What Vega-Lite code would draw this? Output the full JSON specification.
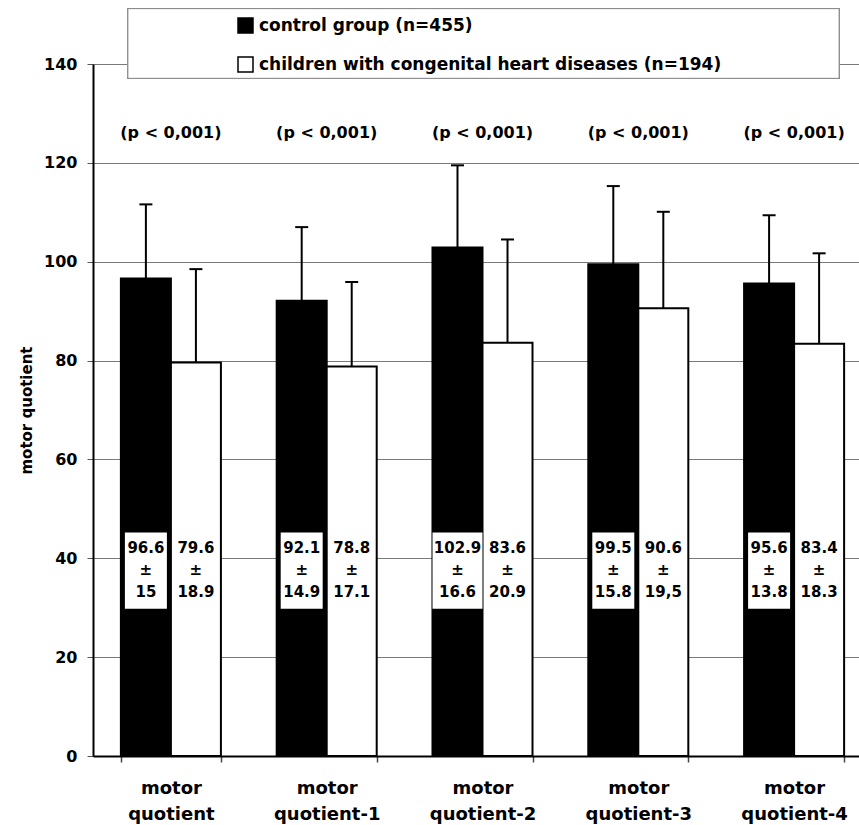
{
  "$schema": "https://vega.github.io/schema/vega-lite/v6.json",
  "width": 766,
  "height": 692,
  "autosize": {"type": "none"},
  "padding": {"left": 93, "top": 64, "right": 0, "bottom": 69},
  "background": "white",
  "config": {
    "view": {"stroke": null},
    "font": "DejaVu Sans",
    "axisY": {
      "grid": true,
      "gridColor": "#7a7a7a",
      "gridWidth": 1,
      "domainColor": "black",
      "domainWidth": 2,
      "tickColor": "#555555",
      "tickSize": 6,
      "labelFont": "DejaVu Sans",
      "labelFontSize": 16,
      "labelFontWeight": "bold",
      "labelColor": "black",
      "labelPadding": 10,
      "titleFont": "DejaVu Sans",
      "titleFontSize": 15,
      "titleFontWeight": "bold",
      "titleColor": "black",
      "titlePadding": 9
    },
    "axisX": {
      "labelAngle": 0,
      "labelFont": "DejaVu Sans",
      "labelFontSize": 18,
      "labelFontWeight": "bold",
      "labelColor": "black",
      "labelLineHeight": 26,
      "labelPadding": 17,
      "tickBand": "extent",
      "tickSize": 6,
      "tickColor": "#444444",
      "tickWidth": 1.5,
      "domainColor": "black",
      "domainWidth": 2
    }
  },
  "data": {
    "values": [
      {"category": "motor quotient", "group": "control group (n=455)", "mean": 96.6, "upper": 111.6, "label": "96.6\n±\n15", "p": "(p < 0,001)"},
      {"category": "motor quotient", "group": "children with congenital heart diseases (n=194)", "mean": 79.6, "upper": 98.5, "label": "79.6\n±\n18.9", "p": "(p < 0,001)"},
      {"category": "motor quotient-1", "group": "control group (n=455)", "mean": 92.1, "upper": 107.0, "label": "92.1\n±\n14.9", "p": "(p < 0,001)"},
      {"category": "motor quotient-1", "group": "children with congenital heart diseases (n=194)", "mean": 78.8, "upper": 95.9, "label": "78.8\n±\n17.1", "p": "(p < 0,001)"},
      {"category": "motor quotient-2", "group": "control group (n=455)", "mean": 102.9, "upper": 119.5, "label": "102.9\n±\n16.6", "p": "(p < 0,001)"},
      {"category": "motor quotient-2", "group": "children with congenital heart diseases (n=194)", "mean": 83.6, "upper": 104.5, "label": "83.6\n±\n20.9", "p": "(p < 0,001)"},
      {"category": "motor quotient-3", "group": "control group (n=455)", "mean": 99.5, "upper": 115.3, "label": "99.5\n±\n15.8", "p": "(p < 0,001)"},
      {"category": "motor quotient-3", "group": "children with congenital heart diseases (n=194)", "mean": 90.6, "upper": 110.1, "label": "90.6\n±\n19,5", "p": "(p < 0,001)"},
      {"category": "motor quotient-4", "group": "control group (n=455)", "mean": 95.6, "upper": 109.4, "label": "95.6\n±\n13.8", "p": "(p < 0,001)"},
      {"category": "motor quotient-4", "group": "children with congenital heart diseases (n=194)", "mean": 83.4, "upper": 101.7, "label": "83.4\n±\n18.3", "p": "(p < 0,001)"}
    ]
  },
  "encoding": {
    "x": {
      "field": "category",
      "type": "nominal",
      "sort": ["motor quotient", "motor quotient-1", "motor quotient-2", "motor quotient-3", "motor quotient-4"],
      "scale": {"range": [0, 779], "paddingInner": 0.358, "paddingOuter": 0.179},
      "axis": {"title": null, "labelExpr": "split(datum.label, ' ')"}
    }
  },
  "layer": [
    {
      "mark": {"type": "bar", "stroke": "black", "strokeWidth": 2},
      "encoding": {
        "xOffset": {"field": "group", "type": "nominal", "sort": ["control group (n=455)", "children with congenital heart diseases (n=194)"], "scale": {"paddingInner": 0}},
        "y": {
          "field": "mean",
          "type": "quantitative",
          "scale": {"domain": [0, 140], "nice": false},
          "title": "motor quotient",
          "axis": {"values": [0, 20, 40, 60, 80, 100, 120, 140]}
        },
        "fill": {
          "field": "group",
          "type": "nominal",
          "scale": {"domain": ["control group (n=455)", "children with congenital heart diseases (n=194)"], "range": ["black", "white"]},
          "legend": {
            "orient": "none",
            "legendX": 35,
            "legendY": -56,
            "title": null,
            "direction": "vertical",
            "padding": 9,
            "rowPadding": 18,
            "symbolType": "square",
            "symbolSize": 225,
            "symbolStrokeColor": "black",
            "symbolStrokeWidth": 1.5,
            "symbolOffset": 100,
            "labelOffset": 5,
            "labelFont": "DejaVu Sans",
            "labelFontSize": 17,
            "labelFontWeight": "bold",
            "labelColor": "black",
            "labelLimit": 1000
          }
        }
      }
    },
    {
      "mark": {"type": "rect", "fill": "white", "stroke": "#888888", "strokeWidth": 1},
      "encoding": {
        "x": {"datum": "motor quotient", "bandPosition": 0.07},
        "x2": {"datum": "motor quotient-4", "bandPosition": 0.95},
        "y": {"datum": 137.1, "type": "quantitative"},
        "y2": {"datum": 151.2}
      }
    },
    {
      "mark": {"type": "rule", "color": "black", "strokeWidth": 2},
      "encoding": {
        "xOffset": {"field": "group", "type": "nominal", "sort": ["control group (n=455)", "children with congenital heart diseases (n=194)"]},
        "y": {"field": "mean", "type": "quantitative"},
        "y2": {"field": "upper"}
      }
    },
    {
      "mark": {"type": "tick", "color": "black", "size": 13, "thickness": 2, "opacity": 1},
      "encoding": {
        "xOffset": {"field": "group", "type": "nominal", "sort": ["control group (n=455)", "children with congenital heart diseases (n=194)"]},
        "y": {"field": "upper", "type": "quantitative"}
      }
    },
    {
      "transform": [{"filter": "datum.group == 'control group (n=455)' && datum.category != 'motor quotient-2'"}],
      "mark": {"type": "bar", "fill": "white", "width": 42},
      "encoding": {
        "xOffset": {"field": "group", "type": "nominal", "sort": ["control group (n=455)", "children with congenital heart diseases (n=194)"]},
        "y": {"datum": 29.8, "type": "quantitative"},
        "y2": {"datum": 45.2}
      }
    },
    {
      "transform": [{"filter": "datum.group == 'control group (n=455)' && datum.category == 'motor quotient-2'"}],
      "mark": {"type": "bar", "fill": "white", "width": 50},
      "encoding": {
        "xOffset": {"field": "group", "type": "nominal", "sort": ["control group (n=455)", "children with congenital heart diseases (n=194)"]},
        "y": {"datum": 29.8, "type": "quantitative"},
        "y2": {"datum": 45.2}
      }
    },
    {
      "mark": {"type": "text", "font": "DejaVu Sans", "fontSize": 15, "fontWeight": "bold", "color": "black", "lineBreak": "\n", "lineHeight": 22, "baseline": "middle", "align": "center"},
      "encoding": {
        "xOffset": {"field": "group", "type": "nominal", "sort": ["control group (n=455)", "children with congenital heart diseases (n=194)"]},
        "y": {"datum": 42.1, "type": "quantitative"},
        "text": {"field": "label"}
      }
    },
    {
      "transform": [{"filter": "datum.group == 'control group (n=455)'"}],
      "mark": {"type": "text", "font": "DejaVu Sans", "fontSize": 16, "fontWeight": "bold", "color": "black", "baseline": "middle", "align": "center"},
      "encoding": {
        "y": {"datum": 126, "type": "quantitative"},
        "text": {"field": "p"}
      }
    }
  ]
}
